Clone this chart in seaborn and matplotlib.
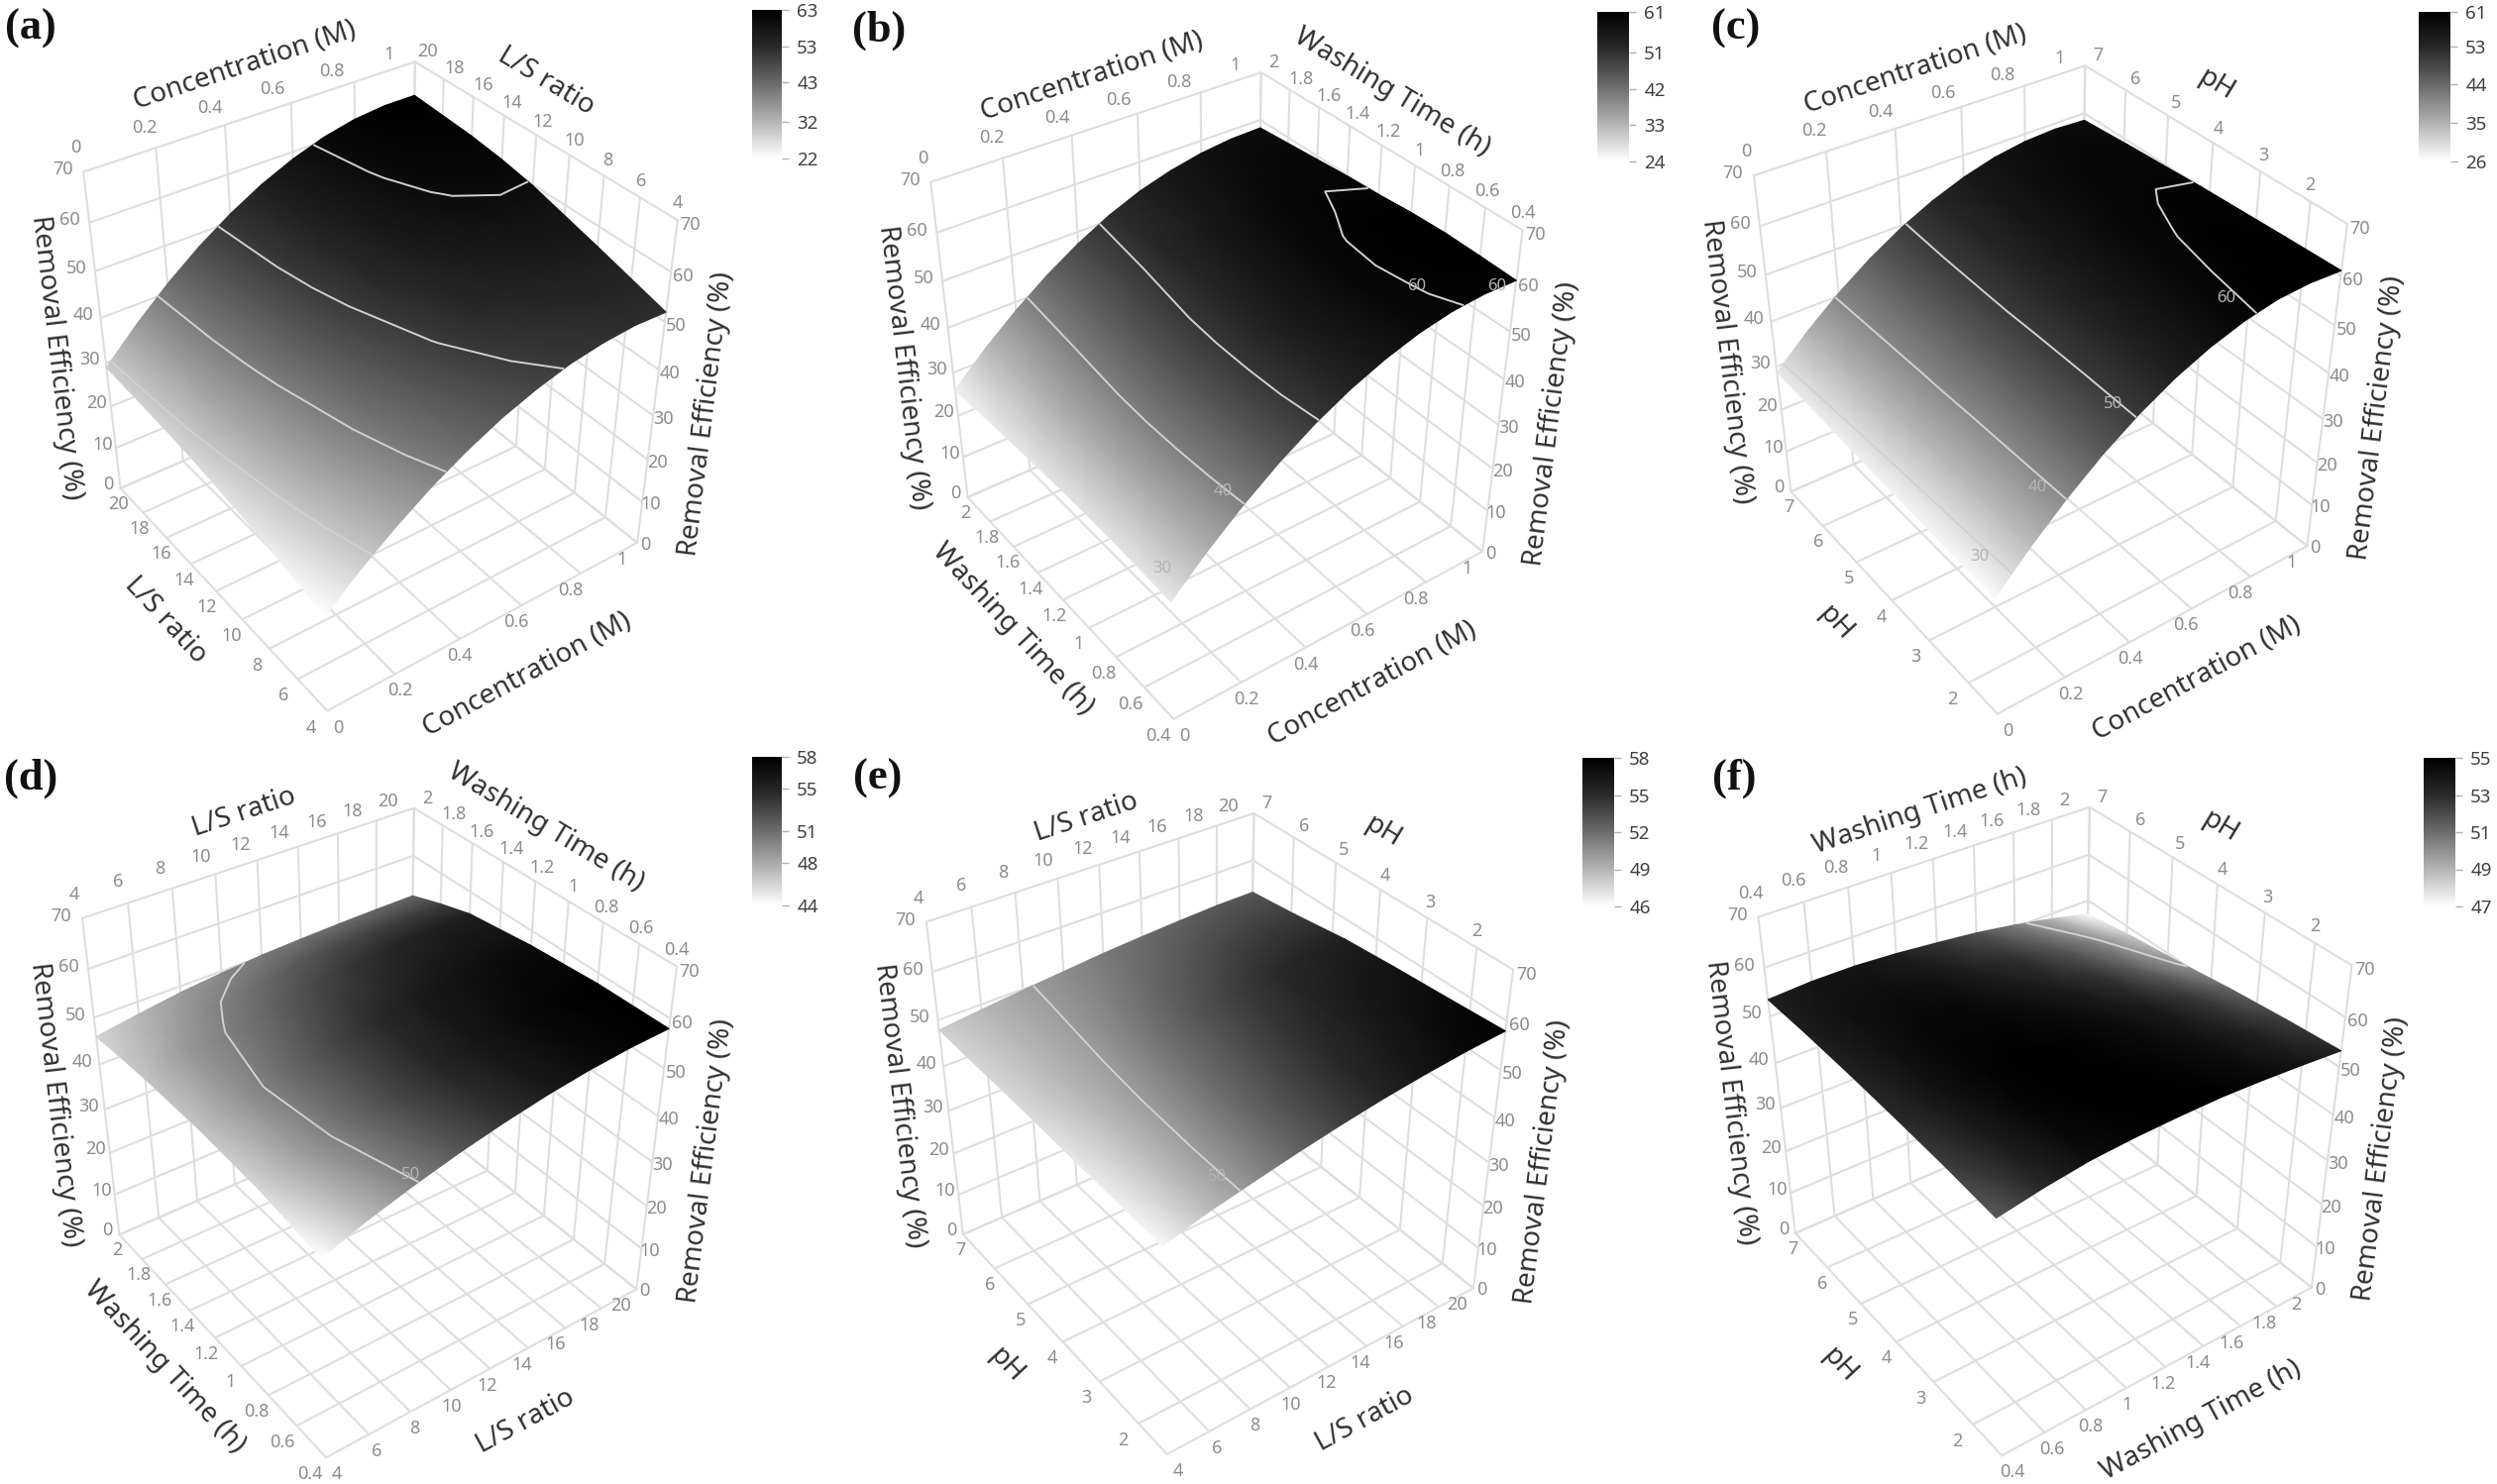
import numpy as np
import matplotlib
matplotlib.use("Agg")
import matplotlib.pyplot as plt
import seaborn as sns
from matplotlib.cm import ScalarMappable
from matplotlib.colors import Normalize
from mpl_toolkits.mplot3d import proj3d

# axis ticks
conc_ticks = [0, 0.2, 0.4, 0.6, 0.8, 1]
ls_ticks = [4, 6, 8, 10, 12, 14, 16, 18, 20]
time_ticks = [0.4, 0.6, 0.8, 1, 1.2, 1.4, 1.6, 1.8, 2]
ph_ticks = [2, 3, 4, 5, 6, 7]
z_ticks = [0, 10, 20, 30, 40, 50, 60, 70]
ph_low = 1.3  # the pH axis runs on past its last tick

conc_grid = [0, 0.1, 0.2, 0.3, 0.4, 0.5, 0.6, 0.7, 0.8, 0.9, 1]
ls_rows_a = [4, 8, 12, 14, 16, 20]
time_rows_b = [0.4, 0.6, 0.8, 1, 1.2, 1.4, 1.6, 2]
ph_rows_c = [1.3, 2.4, 3.6, 4.2, 4.7, 5.9, 7]
ph_rows = [1.3, 2.4, 3.6, 4.7, 5.9, 7]
ls_grid = [4, 6, 8, 10, 12, 14, 16, 18, 20]
time_rows_d = [0.4, 0.8, 1.2, 1.6, 1.8, 2]
time_grid = [0.4, 0.6, 0.8, 1, 1.2, 1.4, 1.6, 1.8, 2]

# removal efficiency, rows follow the y axis, columns the x axis
z_a = [[22.0, 28.2, 33.6, 38.4, 42.4, 45.8, 48.4, 50.4, 51.6, 52.2, 52.0],
       [25.0, 31.4, 37.1, 42.1, 46.3, 49.8, 52.5, 54.5, 55.7, 56.2, 56.0],
       [27.0, 33.6, 39.5, 44.7, 49.1, 52.7, 55.6, 57.8, 59.2, 59.9, 59.8],
       [27.8, 34.5, 40.4, 45.7, 50.1, 53.8, 56.8, 59.0, 60.5, 61.2, 61.1],
       [28.3, 35.1, 41.1, 46.4, 50.9, 54.6, 57.6, 59.8, 61.3, 62.0, 62.0],
       [29.0, 35.8, 41.9, 47.2, 51.7, 55.5, 58.5, 60.8, 62.3, 63.0, 63.0]]
z_b = [[27.0, 33.8, 39.8, 45.1, 49.6, 53.3, 56.2, 58.4, 59.8, 60.4, 60.3],
       [27.4, 34.2, 40.2, 45.5, 50.0, 53.6, 56.5, 58.7, 60.1, 60.7, 60.6],
       [27.6, 34.4, 40.4, 45.6, 50.1, 53.8, 56.7, 58.9, 60.3, 60.9, 60.8],
       [27.7, 34.4, 40.4, 45.6, 50.0, 53.7, 56.6, 58.8, 60.1, 60.8, 60.6],
       [27.5, 34.1, 40.1, 45.3, 49.7, 53.3, 56.2, 58.3, 59.6, 60.3, 60.1],
       [27.2, 33.7, 39.6, 44.8, 49.1, 52.7, 55.6, 57.7, 59.2, 59.9, 59.8],
       [26.9, 33.3, 39.1, 44.2, 48.5, 52.1, 54.9, 57.0, 58.4, 59.2, 59.3],
       [26.0, 32.5, 38.2, 43.2, 47.5, 51.1, 53.9, 55.9, 57.3, 58.1, 58.3]]
z_c = [[26.5, 33.7, 40.1, 45.7, 50.4, 54.3, 57.3, 59.5, 60.9, 61.3, 61.0],
       [27.0, 34.0, 40.2, 45.6, 50.2, 54.0, 57.0, 59.2, 60.4, 61.0, 60.7],
       [27.4, 34.2, 40.3, 45.6, 50.1, 53.8, 56.7, 58.8, 59.9, 60.5, 60.3],
       [27.6, 34.3, 40.4, 45.6, 50.1, 53.7, 56.5, 58.6, 59.7, 60.2, 60.1],
       [27.8, 34.4, 40.4, 45.5, 50.0, 53.5, 56.3, 58.4, 59.4, 59.9, 59.8],
       [28.3, 34.7, 40.5, 45.5, 49.8, 53.2, 55.9, 57.9, 58.9, 59.4, 59.2],
       [28.7, 35.0, 40.6, 45.4, 49.5, 52.8, 55.4, 57.3, 58.4, 58.8, 58.5]]
z_d = [[44.0, 47.2, 49.8, 52.1, 54.0, 55.6, 56.8, 57.6, 58.0],
       [46.0, 48.6, 50.9, 53.0, 54.8, 56.1, 57.1, 57.7, 57.9],
       [46.8, 49.1, 51.1, 52.9, 54.4, 55.6, 56.4, 56.9, 57.0],
       [46.8, 48.9, 50.2, 51.6, 52.9, 54.0, 54.8, 55.3, 55.4],
       [46.5, 48.1, 49.6, 50.7, 51.8, 52.6, 53.1, 53.4, 53.5],
       [46.0, 47.4, 48.7, 49.6, 50.3, 50.7, 51.0, 51.2, 51.3]]
z_e = [[46.3, 48.7, 50.6, 52.4, 54.0, 55.4, 56.5, 57.4, 58.0],
       [46.7, 48.7, 50.5, 52.2, 53.7, 55.0, 56.0, 56.8, 57.3],
       [47.1, 48.8, 50.3, 51.9, 53.3, 54.5, 55.5, 56.2, 56.6],
       [47.5, 48.9, 50.1, 51.6, 52.9, 54.0, 54.9, 55.5, 55.8],
       [47.7, 48.9, 49.9, 51.0, 52.0, 52.9, 53.6, 54.1, 54.2],
       [47.9, 48.9, 49.8, 50.6, 51.4, 52.0, 52.5, 52.9, 53.0]]
z_f = [[51.5, 53.1, 54.3, 54.8, 55.0, 55.0, 54.6, 54.0, 53.3],
       [52.4, 53.7, 54.7, 55.0, 55.0, 54.7, 54.2, 53.4, 52.4],
       [53.0, 54.1, 54.8, 55.0, 54.8, 54.4, 53.7, 52.6, 51.2],
       [53.4, 54.2, 54.7, 54.7, 54.3, 53.7, 52.8, 51.4, 49.8],
       [53.6, 54.2, 54.4, 54.2, 53.5, 52.8, 51.7, 50.3, 48.5],
       [53.5, 54.0, 54.0, 53.5, 52.7, 51.8, 50.5, 48.9, 47.0]]

# colour bar labels, top to bottom
cbar_a = [63, 53, 43, 32, 22]
cbar_b = [61, 51, 42, 33, 24]
cbar_c = [61, 53, 44, 35, 26]
cbar_d = [58, 55, 51, 48, 44]
cbar_e = [58, 55, 52, 49, 46]
cbar_f = [55, 53, 51, 49, 47]

# contour labels on the surface: x, y, level
marks_b = [(0.02, 0.5, 30), (0.19, 0.5, 40), (0.8, 0.6, 60), (0.95, 0.42, 60)]
marks_c = [(0.02, 1.8, 30), (0.17, 1.7, 40), (0.38, 1.7, 50), (0.72, 1.8, 60)]
marks_d = [(8.2, 0.45, 50)]
marks_e = [(7.2, 1.7, 50)]

W, H = 2520, 1498
GRID = "#dedede"
TICK = "#8c8c8c"
LABEL = "#303030"

sns.set_theme(style="white")
plt.rcParams["font.family"] = ["Noto Sans", "DejaVu Sans"]
cmap = sns.blend_palette(["#ffffff", "#b4b4b4", "#6c6c6c", "#2a2a2a", "#000000"], as_cmap=True)

fig = plt.figure(figsize=(W / 100, H / 100), dpi=100, facecolor="white")
overlay = fig.add_axes([0, 0, 1, 1], zorder=5)
overlay.set_xlim(0, W)
overlay.set_ylim(H, 0)
overlay.axis("off")


def to_px(ax, x, y, z):
    x, y, z = np.asarray(x, float), np.asarray(y, float), np.asarray(z, float)
    xs, ys, _ = proj3d.proj_transform(x.ravel(), y.ravel(), z.ravel(), ax.get_proj())
    pts = ax.transData.transform(np.column_stack([xs, ys]))
    return pts[:, 0].reshape(x.shape), H - pts[:, 1].reshape(x.shape)


def fit_box(ax, xr, yr, box):
    # move and scale the 3D axes so the wire box lands on the wanted pixels
    left, right, top, bottom = box
    xc = [xr[0], xr[0], xr[1], xr[1]] * 2
    yc = [yr[0], yr[1], yr[0], yr[1]] * 2
    zc = [0] * 4 + [70] * 4
    for _ in range(3):
        ax.apply_aspect()
        px, py = to_px(ax, xc, yc, zc)
        s = ((right - left) / np.ptp(px) + (bottom - top) / np.ptp(py)) / 2
        pos = ax.get_position()
        ax_w = pos.width * W
        ac = np.array([(pos.x0 + pos.width / 2) * W, (1 - pos.y0 - pos.height / 2) * H])
        mc = np.array([(px.max() + px.min()) / 2, (py.max() + py.min()) / 2])
        tc = np.array([(left + right) / 2, (top + bottom) / 2])
        new_c = ac + tc - (ac + s * (mc - ac))
        new_w = ax_w * s
        ax.set_position([(new_c[0] - new_w / 2) / W, 1 - (new_c[1] + new_w / 2) / H,
                         new_w / W, new_w / H])
    ax.apply_aspect()


def edge_text(ax, p0, p1, text, dx, dy):
    # axis title next to an edge, turned to follow it
    ex, ey = to_px(ax, [p0[0], p1[0]], [p0[1], p1[1]], [p0[2], p1[2]])
    angle = np.degrees(np.arctan2(-(ey[1] - ey[0]), ex[1] - ex[0]))
    if angle > 90:
        angle -= 180
    if angle < -90:
        angle += 180
    overlay.text(ex.mean() + dx, ey.mean() + dy, text, rotation=angle, rotation_mode="anchor",
                 ha="center", va="center", fontsize=20, color=LABEL)


def tick_row(ax, ticks, point, off0, off1):
    # one row of tick labels, the gap to the line changes along the edge
    for v in ticks:
        t = (v - ticks[0]) / (ticks[-1] - ticks[0])
        a, b = to_px(ax, *point(v))
        overlay.text(a + off0[0] + t * (off1[0] - off0[0]), b + off0[1] + t * (off1[1] - off0[1]),
                     f"{v:g}", ha="center", va="center", fontsize=13, color=TICK)


def panel(letter, letter_xy, box, cbar_box, xticks, yticks, xlabel, ylabel, xgrid, ygrid, z,
          levels, cbar_ticks, marks=(), y_low=None):
    xr = (xticks[0], xticks[-1])
    yr = (yticks[0] if y_low is None else y_low, yticks[-1])
    ax = fig.add_axes([0.1, 0.1, 800 / W, 800 / H], projection="3d", proj_type="persp",
                      focal_length=0.47)
    ax.view_init(elev=36.5, azim=-126)
    ax.set_box_aspect((1, 1, 1.0))
    ax.set_xlim(*xr, view_margin=0)
    ax.set_ylim(*yr, view_margin=0)
    ax.set_zlim(0, 70, view_margin=0)
    ax.set_axis_off()
    fit_box(ax, xr, yr, box)

    line = dict(color=GRID, lw=1.5, clip_on=False)
    for v in xticks:
        ax.plot([v, v], [yr[0], yr[1]], [0, 0], **line)
        ax.plot([v, v], [yr[1], yr[1]], [0, 70], **line)
    for v in sorted({yr[0], *yticks}):
        ax.plot([xr[0], xr[1]], [v, v], [0, 0], **line)
        ax.plot([xr[1], xr[1]], [v, v], [0, 70], **line)
    for v in z_ticks:
        ax.plot([xr[0], xr[1]], [yr[1], yr[1]], [v, v], **line)
        ax.plot([xr[1], xr[1]], [yr[0], yr[1]], [v, v], **line)

    # tick labels on both sides of the box
    tick_row(ax, xticks, lambda v: (v, yr[1], 70), (-8, -24), (-26, -7))
    tick_row(ax, xticks, lambda v: (v, yr[0], 0), (11, 17), (-16, 17))
    tick_row(ax, yticks, lambda v: (xr[1], v, 70), (0, -17), (13, -10))
    tick_row(ax, yticks, lambda v: (xr[0], v, 0), (-16, 17), (-2, 16))
    tick_row(ax, z_ticks, lambda v: (xr[0], yr[1], v), (-12, -4), (-21, -2))
    tick_row(ax, z_ticks, lambda v: (xr[1], yr[0], v), (8, 2), (13, 5))

    edge_text(ax, (xr[0], yr[1], 70), (xr[1], yr[1], 70), xlabel, -4, -51)
    edge_text(ax, (xr[1], yr[1], 70), (xr[1], yr[0], 70), ylabel, 0, -60)
    edge_text(ax, (xr[0], yr[1], 0), (xr[0], yr[0], 0), ylabel, -59, 21)
    edge_text(ax, (xr[0], yr[0], 0), (xr[1], yr[0], 0), xlabel, 45, 49)
    edge_text(ax, (xr[0], yr[1], 0), (xr[0], yr[1], 70), "Removal Efficiency (%)", -46, 28)
    edge_text(ax, (xr[1], yr[0], 0), (xr[1], yr[0], 70), "Removal Efficiency (%)", 50, 33)

    # surface
    z = np.array(z, float)
    xx, yy = np.meshgrid(xgrid, ygrid)
    px, py = to_px(ax, xx, yy, z)
    norm = Normalize(cbar_ticks[-1], cbar_ticks[0])
    overlay.pcolormesh(px, py, z, shading="gouraud", cmap=cmap, norm=norm)
    overlay.contour(px, py, z, levels=levels, colors="#d0d0d0", linewidths=1.4)
    for mx, my, lev in marks:
        a, b = to_px(ax, mx, my, lev)
        overlay.text(a, b, str(lev), ha="center", va="center", fontsize=12, color="#b4b4b4")

    overlay.text(*letter_xy, letter, ha="center", va="center", fontsize=32, fontweight="bold",
                 family="Liberation Serif", color="#111111")

    # colour bar
    cax = fig.add_axes([cbar_box[0] / W, 1 - cbar_box[3] / H, (cbar_box[1] - cbar_box[0]) / W,
                        (cbar_box[3] - cbar_box[2]) / H])
    cb = fig.colorbar(ScalarMappable(norm, cmap), cax=cax)
    cb.outline.set_visible(False)
    cb.set_ticks(cbar_ticks)
    cax.tick_params(labelsize=13.5, labelcolor="#404040", length=5, width=1, color="#b0b0b0", pad=6)


panel("(a)", (31, 29), (80, 688, 67, 713), (759, 789, 10, 160), conc_ticks, ls_ticks,
      "Concentration (M)", "L/S ratio", conc_grid, ls_rows_a, z_a, [30, 40, 50, 60], cbar_a)
panel("(b)", (887, 31), (934, 1542, 79, 720), (1612, 1644, 12, 163), conc_ticks, time_ticks,
      "Concentration (M)", "Washing Time (h)", conc_grid, time_rows_b, z_b, [30, 40, 50, 60], cbar_b, marks_b)
panel("(c)", (1752, 29), (1763, 2376, 74, 713), (2441, 2473, 12, 163), conc_ticks, ph_ticks,
      "Concentration (M)", "pH", conc_grid, ph_rows_c, z_c, [30, 40, 50, 60], cbar_c, marks_c, y_low=ph_low)
panel("(d)", (31, 786), (80, 686, 819, 1468), (759, 789, 764, 914), ls_ticks, time_ticks,
      "L/S ratio", "Washing Time (h)", ls_grid, time_rows_d, z_d, [50], cbar_d, marks_d)
panel("(e)", (886, 786), (934, 1528, 822, 1467), (1597, 1629, 765, 915), ls_ticks, ph_ticks,
      "L/S ratio", "pH", ls_grid, ph_rows, z_e, [50], cbar_e, marks_e, y_low=ph_low)
panel("(f)", (1750, 786), (1766, 2382, 824, 1460), (2446, 2478, 765, 915), time_grid, ph_ticks,
      "Washing Time (h)", "pH", time_grid, ph_rows, z_f, [50], cbar_f, y_low=ph_low)

fig.savefig("out.png", dpi=100)
